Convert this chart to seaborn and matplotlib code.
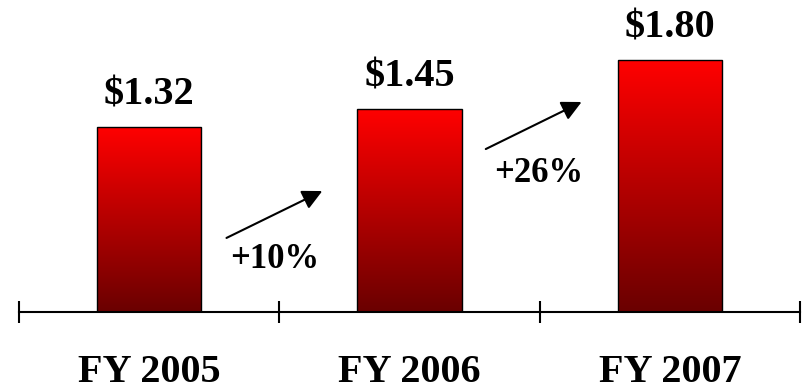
import numpy as np
import pandas as pd
import matplotlib
matplotlib.use("Agg")
import matplotlib.pyplot as plt
import seaborn as sns
from matplotlib.colors import LinearSegmentedColormap

years = ["FY 2005", "FY 2006", "FY 2007"]
eps = [1.32, 1.45, 1.80]
value_labels = ["$1.32", "$1.45", "$1.80"]
growth_labels = ["+10%", "+26%"]

sns.set_theme(style="white")
plt.rcParams["font.family"] = ["Liberation Serif", "DejaVu Serif"]
plt.rcParams["font.weight"] = "bold"

df = pd.DataFrame({"year": years, "eps": eps})

fig = plt.figure(figsize=(8.05, 3.9), dpi=100)
ax = fig.add_axes([19 / 805, 78 / 390, 781 / 805, 312 / 390])
sns.barplot(data=df, x="year", y="eps", ax=ax, width=0.40, color="red")

ax.set_xlim(-0.5, 2.5)
ax.set_ylim(0, 312 / 140)

# vertical red gradient inside each bar
cmap = LinearSegmentedColormap.from_list("redfade", ["#6a0000", "#ff0000"])
grad = np.linspace(0, 1, 256).reshape(-1, 1)
for patch in ax.patches:
    x0, y0 = patch.get_x(), patch.get_y()
    w, h = patch.get_width(), patch.get_height()
    im = ax.imshow(grad, cmap=cmap, origin="lower", aspect="auto",
                   extent=[x0, x0 + w, y0, y0 + h], zorder=2)
    im.set_clip_path(patch)
    patch.set_facecolor("none")
    patch.set_edgecolor("black")
    patch.set_linewidth(1.0)
    patch.set_zorder(3)
ax.set_xlim(-0.5, 2.5)
ax.set_ylim(0, 312 / 140)

for i, (v, lab) in enumerate(zip(eps, value_labels)):
    ax.annotate(lab, (i, v), xytext=(0, 16), textcoords="offset points",
                ha="center", va="baseline", fontsize=29, fontweight="bold",
                color="black")

# growth arrows between bars
arrows = [((0.297, 0.529), (0.665, 0.864)), ((1.293, 1.164), (1.661, 1.50))]
text_pos = [(0.481, 0.314), (1.496, 0.929)]
for (start, end), (tx, ty), g in zip(arrows, text_pos, growth_labels):
    ax.annotate("", xy=end, xytext=start,
                arrowprops=dict(arrowstyle="-|>", color="black", lw=1.5,
                                mutation_scale=30, shrinkA=0, shrinkB=0))
    ax.text(tx, ty, g, ha="center", va="baseline", fontsize=25,
            fontweight="bold", color="black")

for s in ["top", "right", "left"]:
    ax.spines[s].set_visible(False)
ax.spines["bottom"].set_color("black")
ax.spines["bottom"].set_linewidth(1.5)
ax.spines["bottom"].set_zorder(4)

ax.set_yticks([])
ax.set_xlabel("")
ax.set_ylabel("")
ax.set_xticks([0, 1, 2])
ax.set_xticklabels(years, fontsize=29, fontweight="bold")
ax.tick_params(axis="x", which="major", length=0, pad=30, colors="black")
ax.set_xticks([-0.5, 0.5, 1.5, 2.5], minor=True)
ax.tick_params(axis="x", which="minor", direction="inout", length=16,
               width=1.5, color="black", bottom=True)

fig.savefig("out.png", dpi=100, facecolor="white")
